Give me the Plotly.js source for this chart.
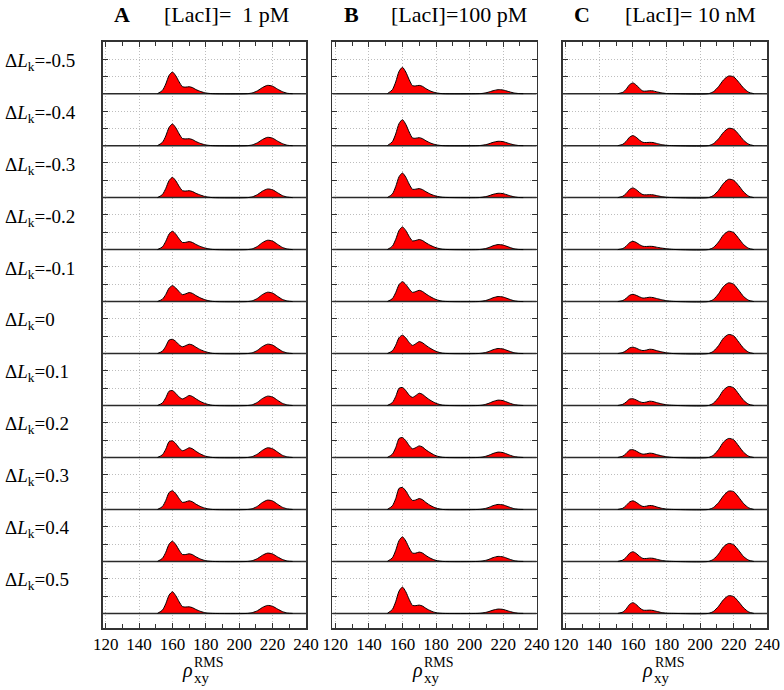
<!DOCTYPE html>
<html>
<head>
<meta charset="utf-8">
<script src="https://cdn.plot.ly/plotly-3.0.1.min.js"></script>
<style>html,body{margin:0;padding:0;background:#fff;}#chart{width:784px;height:690px;}</style>
</head>
<body>
<div id="chart"></div>
<script>
// ---- data ----
const rowLabels = ['-0.5','-0.4','-0.3','-0.2','-0.1','0','0.1','0.2','0.3','0.4','0.5'];
const panelLetters = ['A','B','C'];
const panelConc = ['[LacI]=&nbsp;&nbsp;1 pM','[LacI]=100 pM','[LacI]=&nbsp;10 nM'];
const xTickVals = [120,140,160,180,200,220,240];
const xLeft  = [151,154,156,158,160,162,164,166,168,170,172,174,177,180,184];
const xRight = [205,208,211,214,217,220,223,226,229,232];

// column A, low rho hump (rows -0.5 ... 0.5)
const A_left = [
 [0,.19,.56,1.06,1.25,1.03,.68,.40,.38,.40,.35,.24,.12,.04,0],
 [0,.19,.56,1.06,1.25,1.03,.68,.41,.39,.40,.35,.24,.12,.04,0],
 [0,.18,.53,.99,1.17,.97,.65,.40,.38,.40,.35,.25,.14,.05,0],
 [0,.16,.48,.90,1.06,.89,.62,.41,.42,.46,.41,.30,.17,.08,.01],
 [0,.14,.41,.78,.92,.78,.57,.40,.45,.52,.47,.35,.20,.09,.01],
 [0,.14,.42,.78,.82,.70,.50,.39,.46,.54,.49,.37,.21,.10,.01],
 [0,.15,.45,.83,.86,.70,.49,.38,.47,.58,.52,.39,.22,.10,.01],
 [0,.16,.48,.92,.96,.80,.55,.39,.46,.56,.50,.36,.19,.07,0],
 [0,.17,.52,.98,1.08,.91,.63,.41,.44,.50,.44,.31,.16,.06,0],
 [0,.18,.53,1.00,1.17,.97,.65,.40,.40,.44,.39,.27,.13,.04,0],
 [0,.19,.56,1.06,1.25,1.02,.67,.39,.37,.38,.33,.23,.11,.03,0]
];
// column A, high rho hump
const A_right = [
 [0,.05,.17,.36,.48,.43,.26,.11,.02,0],
 [0,.05,.17,.36,.48,.43,.26,.11,.02,0],
 [0,.05,.18,.38,.50,.45,.28,.11,.03,0],
 [0,.05,.19,.41,.54,.49,.30,.12,.03,0],
 [0,.05,.19,.41,.54,.49,.30,.12,.03,0],
 [0,.05,.19,.41,.54,.49,.30,.12,.03,0],
 [0,.05,.19,.41,.54,.49,.30,.12,.03,0],
 [0,.06,.20,.42,.56,.50,.31,.12,.03,0],
 [0,.05,.19,.41,.54,.49,.30,.12,.03,0],
 [0,.05,.17,.36,.48,.43,.26,.11,.02,0],
 [0,.05,.16,.35,.46,.41,.25,.10,.02,0]
];
// column B
const B_left = [
 [0,.23,.68,1.29,1.52,1.25,.81,.46,.45,.48,.42,.29,.14,.05,0],
 [0,.23,.68,1.28,1.50,1.23,.79,.44,.43,.46,.40,.28,.14,.05,0],
 [0,.21,.64,1.21,1.42,1.18,.78,.48,.49,.52,.46,.34,.19,.09,.02],
 [0,.20,.59,1.11,1.31,1.10,.76,.50,.53,.58,.52,.39,.23,.11,.02],
 [0,.17,.52,.98,1.15,.99,.73,.53,.58,.65,.58,.44,.26,.12,.02],
 [0,.16,.48,.92,1.06,.90,.64,.47,.57,.69,.62,.47,.28,.13,.02],
 [0,.17,.52,1.00,1.04,.86,.60,.47,.58,.71,.64,.48,.28,.13,.02],
 [0,.19,.57,1.10,1.15,.97,.69,.50,.57,.67,.60,.44,.25,.10,.01],
 [0,.21,.63,1.22,1.27,1.07,.75,.52,.55,.63,.56,.40,.21,.08,0],
 [0,.21,.64,1.21,1.42,1.18,.78,.48,.48,.54,.48,.34,.17,.06,0],
 [0,.23,.68,1.29,1.52,1.25,.81,.46,.45,.48,.42,.29,.14,.04,0]
];
const B_right = [
 [0,.02,.08,.17,.23,.21,.13,.05,.01,0],
 [0,.03,.09,.19,.25,.23,.14,.06,.01,0],
 [0,.03,.09,.19,.25,.23,.14,.06,.01,0],
 [0,.03,.10,.22,.29,.26,.16,.06,.01,0],
 [0,.03,.10,.22,.29,.26,.16,.06,.01,0],
 [0,.03,.10,.22,.29,.26,.16,.06,.01,0],
 [0,.03,.11,.23,.31,.28,.17,.07,.02,0],
 [0,.03,.11,.23,.31,.28,.17,.07,.02,0],
 [0,.03,.10,.22,.29,.26,.16,.06,.01,0],
 [0,.03,.10,.22,.29,.26,.16,.06,.01,0],
 [0,.03,.09,.19,.25,.23,.14,.06,.01,0]
];
// column C
const C_left = [
 [0,.08,.26,.52,.62,.50,.30,.15,.15,.17,.16,.11,.05,.01,0],
 [0,.08,.25,.49,.58,.48,.31,.19,.18,.19,.18,.13,.06,.02,0],
 [0,.08,.24,.47,.56,.46,.29,.17,.16,.17,.16,.12,.06,.02,0],
 [0,.06,.20,.40,.48,.41,.28,.19,.18,.19,.18,.14,.09,.05,.01],
 [0,.06,.19,.36,.42,.36,.27,.20,.22,.25,.23,.18,.11,.05,.01],
 [0,.06,.17,.32,.37,.31,.22,.17,.20,.25,.23,.17,.10,.04,0],
 [0,.07,.20,.37,.39,.32,.22,.17,.20,.25,.23,.17,.10,.04,.01],
 [0,.08,.23,.43,.45,.37,.26,.19,.21,.25,.23,.17,.10,.04,0],
 [0,.07,.23,.43,.50,.41,.27,.17,.19,.23,.21,.15,.07,.02,0],
 [0,.08,.24,.47,.56,.46,.29,.17,.17,.19,.18,.13,.06,.02,0],
 [0,.08,.26,.52,.62,.51,.32,.19,.18,.19,.17,.12,.05,.01,0]
];
const C_right = [
 [0,.12,.41,.80,1.02,.97,.66,.31,.08,0],
 [0,.12,.40,.78,1.00,.95,.65,.30,.08,0],
 [0,.13,.42,.83,1.06,1.00,.69,.32,.08,0],
 [0,.13,.44,.86,1.06,.98,.64,.28,.07,0],
 [0,.13,.45,.88,1.08,1.00,.65,.28,.07,0],
 [0,.14,.46,.90,1.10,1.02,.66,.29,.07,0],
 [0,.14,.46,.90,1.10,1.02,.66,.29,.07,0],
 [0,.14,.46,.90,1.10,1.02,.66,.29,.07,0],
 [0,.12,.40,.80,1.06,1.03,.70,.33,.09,0],
 [0,.13,.43,.85,1.04,.96,.63,.27,.07,0],
 [0,.12,.41,.80,1.02,.97,.66,.31,.08,0]
];

// ---- build ----
const columns = [[A_left, A_right], [B_left, B_right], [C_left, C_right]];
const xRange = [118.2, 240];
const rowStep = 3;
const nRows = rowLabels.length;
const xs = xLeft.concat(xRight);
const traces = [];
columns.forEach((col, c) => {
  const xa = c === 0 ? 'x' : 'x' + (c + 1);
  const ya = c === 0 ? 'y' : 'y' + (c + 1);
  for (let r = 0; r < nRows; r++) {
    const off = (nRows - 1 - r) * rowStep;
    traces.push({
      x: xRange, y: [off, off], xaxis: xa, yaxis: ya, mode: 'lines',
      line: {color: '#2a2a2a', width: 1.5}, hoverinfo: 'skip', showlegend: false
    });
    const vals = col[0][r].concat(col[1][r]);
    traces.push({
      x: xs, y: vals.map(v => v + off), xaxis: xa, yaxis: ya, mode: 'lines',
      fill: 'tonexty', fillcolor: '#ff0000',
      line: {color: '#000', width: 1, shape: 'spline', smoothing: 0.7},
      hoverinfo: 'skip', showlegend: false
    });
  }
});

const W = 784, H = 690;
const colPx = [[102.7, 306], [332.3, 536.7], [562.7, 767.3]];
const yDom = [(H - 628.3) / H, (H - 41.7) / H];
const serif = 'Liberation Serif, Times New Roman, serif';

const layout = {
  width: W, height: H, margin: {l: 0, r: 0, t: 0, b: 0},
  paper_bgcolor: '#fff', plot_bgcolor: '#fff', showlegend: false,
  font: {family: serif, color: '#000'},
  annotations: []
};
colPx.forEach((p, c) => {
  const sfx = c === 0 ? '' : String(c + 1);
  layout['xaxis' + sfx] = {
    domain: [p[0] / W, p[1] / W], anchor: 'y' + sfx, range: xRange,
    tickvals: xTickVals, ticks: 'inside', ticklen: 5, tickwidth: 1, tickcolor: '#333',
    showline: true, linecolor: '#333', linewidth: 1.5, mirror: 'ticks',
    showgrid: true, gridcolor: '#bdbdbd', griddash: '1px,2px', gridwidth: 1, zeroline: false,
    minor: {dtick: 10, tick0: 120, ticks: 'inside', ticklen: 4, tickcolor: '#333', showgrid: false},
    tickfont: {family: serif, size: 17, color: '#000'}
  };
  layout['yaxis' + sfx] = {
    domain: yDom, anchor: 'x' + sfx, range: [-0.86, 33],
    tick0: 0, dtick: 1, ticks: 'inside', ticklen: 5, tickcolor: '#333',
    showline: true, linecolor: '#333', linewidth: 1.5, mirror: 'ticks',
    showgrid: true, gridcolor: '#bdbdbd', griddash: '1px,2px', gridwidth: 1, zeroline: false,
    showticklabels: false
  };
  // panel titles
  layout.annotations.push({
    text: '<b>' + panelLetters[c] + '</b>', xref: 'x' + sfx, yref: 'paper',
    x: 129.5, y: (H - 15) / H, xanchor: 'center', yanchor: 'middle', showarrow: false,
    font: {family: serif, size: 22, color: '#000'}
  });
  layout.annotations.push({
    text: panelConc[c], xref: 'x' + sfx, yref: 'paper',
    x: [192.5, 193.5, 194][c], y: (H - 15) / H, xanchor: 'center', yanchor: 'middle', showarrow: false,
    font: {family: serif, size: 22, color: '#000'}
  });
  // x-axis title rho_xy^RMS
  layout.annotations.push({
    text: '<i>ρ</i>', xref: 'x' + sfx, yref: 'paper', x: 168.9, y: (H - 670) / H,
    xanchor: 'center', yanchor: 'middle', showarrow: false, font: {family: serif, size: 20, color: '#000'}
  });
  layout.annotations.push({
    text: 'RMS', xref: 'x' + sfx, yref: 'paper', x: 182.0, y: (H - 662) / H,
    xanchor: 'center', yanchor: 'middle', showarrow: false, font: {family: serif, size: 14, color: '#000'}
  });
  layout.annotations.push({
    text: 'xy', xref: 'x' + sfx, yref: 'paper', x: 177.4, y: (H - 678) / H,
    xanchor: 'center', yanchor: 'middle', showarrow: false, font: {family: serif, size: 15, color: '#000'}
  });
});
// row labels
rowLabels.forEach((lab, r) => {
  const off = (rowLabels.length - 1 - r) * rowStep;
  layout.annotations.push({
    text: 'Δ<i>L</i><sub>k</sub>=' + lab, xref: 'paper', yref: 'y',
    x: 3 / W, y: off + 1.85, xanchor: 'left', yanchor: 'middle', showarrow: false,
    font: {family: serif, size: 19, color: '#000'}
  });
});

Plotly.newPlot('chart', traces, layout, {staticPlot: true});
</script>
</body>
</html>
